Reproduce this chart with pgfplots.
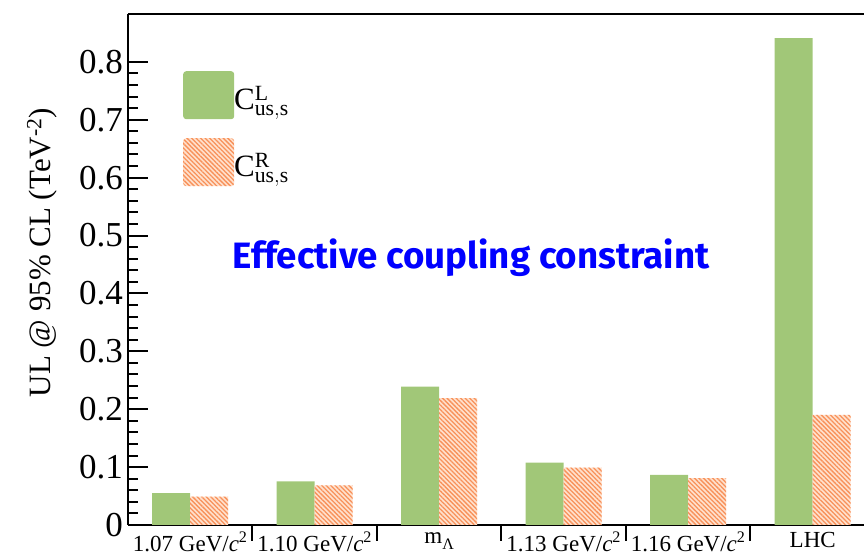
\documentclass[border=0pt]{standalone}
\usepackage{pgfplots}
\pgfplotsset{compat=1.18}
\usetikzlibrary{patterns.meta}
\usepackage{fontspec}
\setmainfont{Liberation Serif}
\setmathrm{Liberation Serif}
\newfontfamily\blueff{Fira Sans}
\definecolor{barG}{RGB}{161,199,120}
\definecolor{barO}{RGB}{248,145,90}
\definecolor{barOl}{RGB}{255,225,205}
\definecolor{txtblue}{RGB}{0,0,255}
\begin{document}
\begin{tikzpicture}
\begin{axis}[
  name=ax,
  scale only axis,
  width=736pt, height=511pt,
  xmin=-0.5, xmax=5.412,
  ymin=0, ymax=0.8826,
  axis lines=left,
  axis line style={-, line width=2.6pt},
  tick align=inside,
  ybar=0pt, bar width=38pt,
  ytick={0,0.1,0.2,0.3,0.4,0.5,0.6,0.7,0.8},
  yticklabels={0,0.1,0.2,0.3,0.4,0.5,0.6,0.7,0.8},
  minor y tick num=4,
  major tick length=20pt, minor tick length=10pt,
  y tick style={line width=2pt, black},
  yticklabel style={font=\fontsize{35}{35}\selectfont, inner sep=1pt, xshift=-4pt},
  xtick={0,1,2,3,4,5},
  xticklabels={1.07 GeV/\textit{c}\textsuperscript{2}, 1.10 GeV/\textit{c}\textsuperscript{2}, m\raisebox{-0.3em}{\fontsize{16}{16}\selectfont Λ}, 1.13 GeV/\textit{c}\textsuperscript{2}, 1.16 GeV/\textit{c}\textsuperscript{2}, LHC},
  x tick style={draw=none},
  extra x ticks={0.5,1.5,2.5,3.5,4.5},
  extra x tick labels={},
  extra x tick style={major tick length=16pt, x tick style={draw=black, line width=2pt}},
  xticklabel style={font=\fontsize{23}{23}\selectfont, inner sep=0pt, yshift=13pt, anchor=north},
  every axis y label/.style={at={(rel axis cs:0,0.533)}, rotate=90, anchor=center, yshift=86pt, font=\fontsize{31}{31}\selectfont},
  ylabel={UL @ 95\% CL (TeV\textsuperscript{-2})},
  legend style={draw=none, fill=none, at={(rel axis cs:0,1)}, anchor=north west, xshift=55pt, yshift=-57pt, inner sep=0pt, font=\fontsize{31}{31}\selectfont, row sep=19pt, nodes={inner sep=0pt, anchor=west}, /tikz/every even column/.append style={column sep=15pt}},
  legend cell align=left,
  legend image code/.code={\path[#1, rounded corners=3pt] (0pt,-24pt) rectangle (51pt,24pt);},
  clip=true,
]
\addplot[fill=barG, draw=none] coordinates {(0,0.055) (1,0.0755) (2,0.239) (3,0.1076) (4,0.0864) (5,0.841)};
\addlegendentry{\raisebox{-6pt}{$\mathrm{C}^{\mathrm{L}}_{\mathrm{us,s}}$}}
\addplot[fill=barOl, draw=none, postaction={pattern={Lines[angle=-45, distance=3.2pt, line width=1.3pt]}, pattern color=barO}] coordinates {(0,0.049) (1,0.0685) (2,0.219) (3,0.099) (4,0.081) (5,0.190)};
\addlegendentry{\raisebox{-6pt}{$\mathrm{C}^{\mathrm{R}}_{\mathrm{us,s}}$}}
\draw[line width=2.6pt] (rel axis cs:0,1) -- (rel axis cs:1,1);
\node[text=txtblue, anchor=center, inner sep=0pt] at (rel axis cs:0.466,0.5225) {\resizebox{477pt}{!}{\blueff\bfseries Effective coupling constraint}};
\end{axis}
\pgfresetboundingbox
\path[use as bounding box] ([xshift=-128pt,yshift=-28pt]ax.south west) rectangle ([yshift=14pt]ax.north east);
\end{tikzpicture}
\end{document}
